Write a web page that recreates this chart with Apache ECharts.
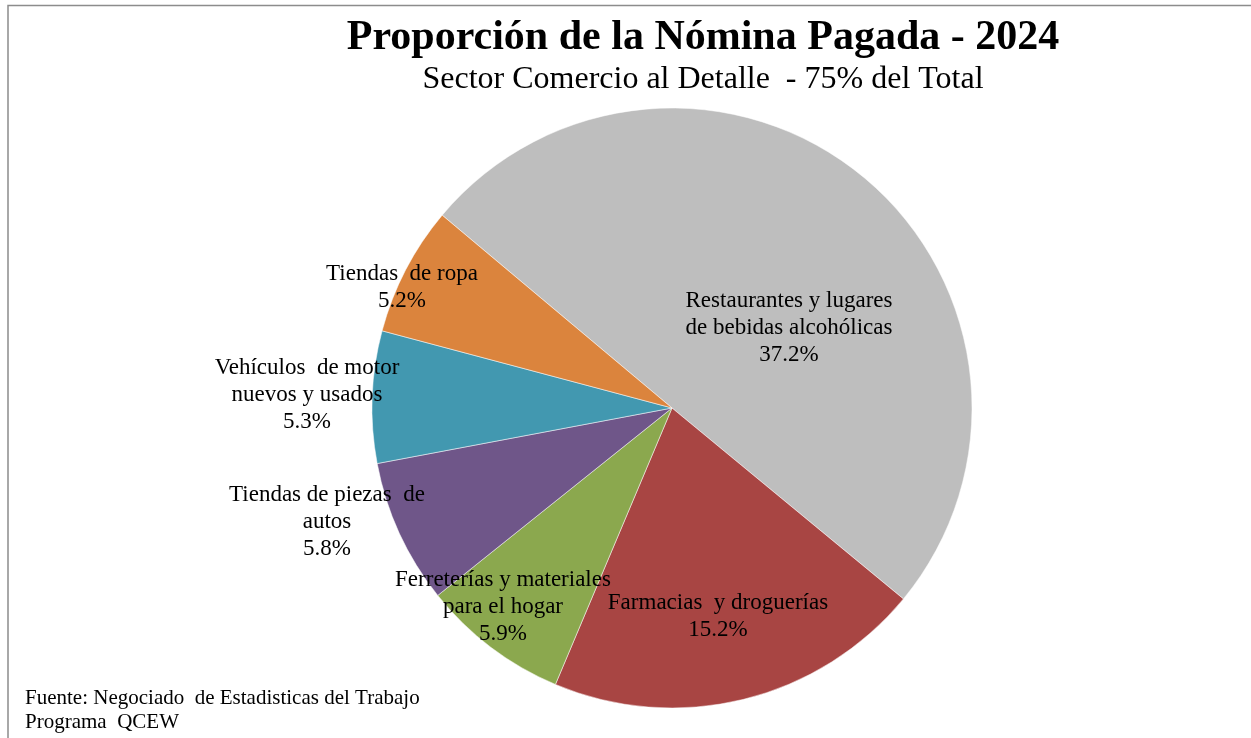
<!DOCTYPE html>
<html>
<head>
<meta charset="utf-8">
<script src="https://cdn.jsdelivr.net/npm/echarts@6/dist/echarts.min.js"></script>
<style>
  html, body { margin: 0; padding: 0; background: #ffffff; }
  #chart { width: 1251px; height: 738px; }
</style>
</head>
<body>
<div id="chart"></div>
<script>
// Payroll share by retail subsector, 2024 (percent of total payroll)
const categories = [
  'Restaurantes y lugares\nde bebidas alcohólicas',
  'Farmacias  y droguerías',
  'Ferreterías y materiales\npara el hogar',
  'Tiendas de piezas  de\nautos',
  'Vehículos  de motor\nnuevos y usados',
  'Tiendas  de ropa'
];
const shares = [37.2, 15.2, 5.9, 5.8, 5.3, 5.2];
const sliceColors = ['#BEBEBE', '#A84543', '#8BA84E', '#6F5689', '#4298B0', '#DB843D'];

const titleText = 'Proporción de la Nómina Pagada - 2024';
const subtitleText = 'Sector Comercio al Detalle  - 75% del Total';
const sourceText = 'Fuente: Negociado  de Estadisticas del Trabajo\nPrograma  QCEW';

// Label anchor points (px) for each slice's text block
const labelSpots = [[789, 328], [718, 616], [503, 607], [327, 522], [307, 395], [402, 287]];

const serif = '"Liberation Serif", "Times New Roman", serif';

const chart = echarts.init(document.getElementById('chart'), null, { renderer: 'canvas' });

chart.setOption({
  backgroundColor: '#ffffff',
  animation: false,
  graphic: [
    {
      type: 'rect',
      shape: { x: 8, y: 5.5, width: 1300, height: 800 },
      style: { fill: 'none', stroke: '#8c8c8c', lineWidth: 1.5 },
      silent: true
    },
    {
      type: 'text',
      x: 703, y: 38,
      style: {
        text: titleText, fill: '#000', font: 'bold 42px ' + serif,
        align: 'center', verticalAlign: 'middle'
      }
    },
    {
      type: 'text',
      x: 703, y: 80,
      style: {
        text: subtitleText, fill: '#000', font: '32px ' + serif,
        align: 'center', verticalAlign: 'middle'
      }
    },
    {
      type: 'text',
      x: 25, y: 710,
      style: {
        text: sourceText, fill: '#000', font: '21px ' + serif,
        lineHeight: 24, align: 'left', verticalAlign: 'middle'
      }
    }
  ],
  series: [{
    type: 'pie',
    center: [672, 408],
    radius: 300,
    startAngle: 140,
    clockwise: true,
    avoidLabelOverlap: false,
    data: categories.map((name, i) => ({
      name: name, value: shares[i],
      itemStyle: { color: sliceColors[i] }
    })),
    itemStyle: { borderColor: '#ffffff', borderWidth: 0.5 },
    label: {
      show: true,
      position: 'inside',
      formatter: p => p.name + '\n' + p.value.toFixed(1) + '%',
      fontFamily: serif,
      fontSize: 23,
      lineHeight: 27,
      color: '#000',
      align: 'center'
    },
    labelLine: { show: false },
    labelLayout: p => ({
      x: labelSpots[p.dataIndex][0],
      y: labelSpots[p.dataIndex][1],
      align: 'center',
      verticalAlign: 'middle'
    }),
    emphasis: { disabled: true }
  }]
});
</script>
</body>
</html>
